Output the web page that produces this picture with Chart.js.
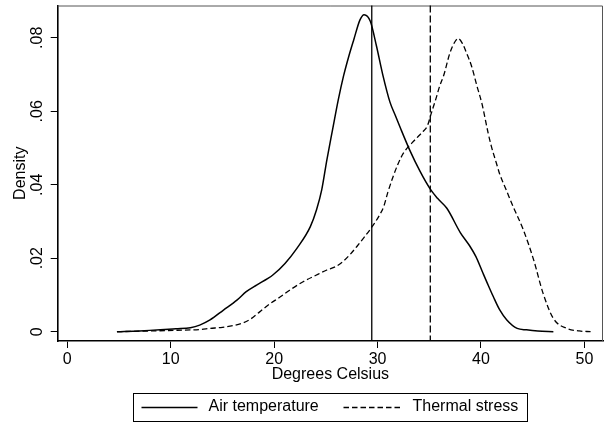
<!DOCTYPE html>
<html><head><meta charset="utf-8">
<script src="https://cdn.jsdelivr.net/npm/chart.js@4"></script>
<style>html,body{margin:0;padding:0;background:#fff}</style>
</head><body><canvas id="c" width="608" height="425"></canvas>
<script>
const seriesNames = ['Air temperature', 'Thermal stress'];
const airX = [4.8, 7.0, 9.0, 10.5, 11.9, 12.8, 13.8, 15.1, 16.4, 17.3, 18.3, 19.4, 19.9, 21.05, 22.2, 23.5, 24.1, 24.6, 25.1, 25.65, 26.2, 26.7, 27.2, 27.7, 28.3, 28.7, 29.3, 29.9, 30.5, 31.2, 31.7, 32.2, 33.1, 34.1, 35.1, 35.8, 36.7, 38.0, 38.9, 39.5, 40.2, 40.6, 41.2, 41.8, 42.5, 43.5, 44.4, 45.5, 47.0];
const airY = [0, 0.0002, 0.0005, 0.0008, 0.0011, 0.0018, 0.0032, 0.0059, 0.0086, 0.0109, 0.0127, 0.0145, 0.0155, 0.0186, 0.0227, 0.0286, 0.0332, 0.0386, 0.0468, 0.055, 0.0631, 0.0695, 0.0748, 0.0795, 0.0849, 0.0863, 0.0845, 0.0777, 0.070, 0.0625, 0.059, 0.0555, 0.0495, 0.0437, 0.0388, 0.0363, 0.0336, 0.0270, 0.0234, 0.0205, 0.0159, 0.0133, 0.0095, 0.006, 0.0032, 0.0009, 0.0005, 0.0002, 0];
const stressX = [4.8, 8.0, 10.6, 12.8, 13.8, 15.0, 16.1, 17.0, 17.7, 18.6, 19.4, 20.6, 21.5, 22.8, 24.0, 25.1, 26.0, 26.7, 27.4, 28.0, 28.7, 29.4, 30.2, 30.6, 31.0, 31.5, 32.0, 32.5, 33.6, 34.4, 34.8, 35.2, 35.6, 36.0, 36.4, 37.0, 37.5, 37.8, 38.2, 38.6, 39.1, 39.6, 40.1, 40.7, 41.0, 41.5, 41.8, 42.5, 43.1, 44.1, 45.1, 46.0, 47.0, 48.3, 49.5, 50.6];
const stressY = [0, 0.0002, 0.0004, 0.0006, 0.0009, 0.0012, 0.0017, 0.0024, 0.0034, 0.0054, 0.0072, 0.0095, 0.0113, 0.0136, 0.0153, 0.0168, 0.0178, 0.0192, 0.0212, 0.0232, 0.0257, 0.0283, 0.0318, 0.0341, 0.038, 0.0422, 0.0458, 0.0486, 0.0522, 0.0545, 0.0559, 0.0595, 0.063, 0.0668, 0.0698, 0.0759, 0.079, 0.0798, 0.0785, 0.0759, 0.0722, 0.067, 0.062, 0.054, 0.0505, 0.0458, 0.043, 0.0382, 0.0341, 0.0277, 0.0195, 0.0105, 0.0036, 0.0009, 0.0002, 0];
const xTickValues = [0, 10, 20, 30, 40, 50];
const xTickLabels = ['0', '10', '20', '30', '40', '50'];
const yTickValues = [0, 0.02, 0.04, 0.06, 0.08];
const yTickLabels = ['0', '.02', '.04', '.06', '.08'];
const refLines = [29.44, 35.1];
const xAxisTitle = 'Degrees Celsius';
const yAxisTitle = 'Density';

const FONT = 'Liberation Sans, Arial, sans-serif';
const lineDashes = [[], [5.5, 3]];

const framePlugin = {
  id: 'frame',
  beforeDatasetsDraw(chart) {
    const {ctx, chartArea: a} = chart;
    ctx.save();
    ctx.strokeStyle = '#555';
    ctx.lineWidth = 1;
    ctx.beginPath();
    ctx.moveTo(a.left, a.top + 0.5); ctx.lineTo(a.right - 0.5, a.top + 0.5); ctx.lineTo(a.right - 0.5, a.bottom);
    ctx.stroke();
    ctx.restore();
  },
  afterDatasetsDraw(chart) {
    const {ctx, chartArea: a, scales} = chart;
    ctx.save();
    refLines.forEach((v, i) => {
      const px = scales.x.getPixelForValue(v);
      ctx.strokeStyle = '#000';
      ctx.lineWidth = 1.3;
      ctx.setLineDash(i === 0 ? [] : [7, 3]);
      ctx.beginPath();
      ctx.moveTo(px, a.top); ctx.lineTo(px, a.bottom);
      ctx.stroke();
    });
    ctx.restore();
  },
  afterDraw(chart) {
    const {ctx, chartArea: a, scales} = chart;
    ctx.save();
    ctx.fillStyle = '#000';
    ctx.font = '16px ' + FONT;
    ctx.textAlign = 'center';
    ctx.textBaseline = 'middle';
    yTickValues.forEach((v, i) => {
      const py = scales.y.getPixelForValue(v);
      ctx.save();
      ctx.translate(38, py);
      ctx.rotate(-Math.PI / 2);
      ctx.fillText(yTickLabels[i], 0, 0);
      ctx.restore();
    });
    const cx = (a.left + a.right) / 2;
    const boxW = 394, boxTop = 393, boxH = 28;
    const bx = Math.round(cx - boxW / 2) + 0.5;
    ctx.strokeStyle = '#000';
    ctx.lineWidth = 1;
    ctx.strokeRect(bx, boxTop + 0.5, boxW, boxH);
    const ly = boxTop + boxH / 2;
    const items = [
      {x0: bx + 8, len: 56, tx: bx + 75},
      {x0: bx + 210, len: 59, tx: bx + 279}
    ];
    ctx.textAlign = 'left';
    chart.data.datasets.forEach((ds, i) => {
      const it = items[i];
      ctx.setLineDash(ds.borderDash || []);
      ctx.lineWidth = 1.3;
      ctx.beginPath();
      ctx.moveTo(it.x0, ly + 0.5); ctx.lineTo(it.x0 + it.len, ly + 0.5);
      ctx.stroke();
      ctx.setLineDash([]);
      ctx.fillText(ds.label, it.tx, ly);
    });
    ctx.restore();
  }
};

const mk = (xs, ys) => xs.map((x, i) => ({x: x, y: ys[i]}));

new Chart(document.getElementById('c'), {
  type: 'scatter',
  data: {
    datasets: [
      {label: seriesNames[0], data: mk(airX, airY), showLine: true, borderColor: '#000', borderWidth: 1.5, pointRadius: 0, fill: false, cubicInterpolationMode: 'monotone', borderDash: lineDashes[0]},
      {label: seriesNames[1], data: mk(stressX, stressY), showLine: true, borderColor: '#000', borderWidth: 1.3, pointRadius: 0, fill: false, cubicInterpolationMode: 'monotone', borderDash: lineDashes[1]}
    ]
  },
  options: {
    responsive: false,
    devicePixelRatio: 1,
    animation: false,
    layout: {padding: {left: 0, right: 5, top: 5.5, bottom: 40}},
    plugins: {legend: {display: false}, tooltip: {enabled: false}},
    scales: {
      x: {
        type: 'linear', min: -0.93, max: 51.8,
        afterBuildTicks: s => { s.ticks = xTickValues.map(v => ({value: v})); },
        afterFit: s => { s.height = 44; },
        ticks: {callback: (v, i) => xTickLabels[i], color: '#000', font: {family: FONT, size: 16}, padding: 2, maxRotation: 0, autoSkip: false},
        grid: {display: true, drawOnChartArea: false, drawTicks: true, tickLength: 7, color: '#000', lineWidth: 1},
        border: {display: true, color: '#000', width: 1.6},
        title: {display: true, text: xAxisTitle, color: '#000', font: {family: FONT, size: 16}, padding: {top: 0, bottom: 1}}
      },
      y: {
        type: 'linear', min: -0.00253, max: 0.0888,
        afterBuildTicks: s => { s.ticks = yTickValues.map(v => ({value: v})); },
        afterFit: s => { s.width = 57.7; },
        ticks: {callback: (v, i) => yTickLabels[i], color: 'rgba(0,0,0,0)', font: {family: FONT, size: 1}, padding: 0, autoSkip: false},
        grid: {display: true, drawOnChartArea: false, drawTicks: true, tickLength: 7, color: '#000', lineWidth: 1},
        border: {display: true, color: '#000', width: 1.6},
        title: {display: true, text: yAxisTitle, color: '#000', font: {family: FONT, size: 16}, padding: {top: 11, bottom: 0}}
      }
    }
  },
  plugins: [framePlugin]
});
</script>
</body></html>
